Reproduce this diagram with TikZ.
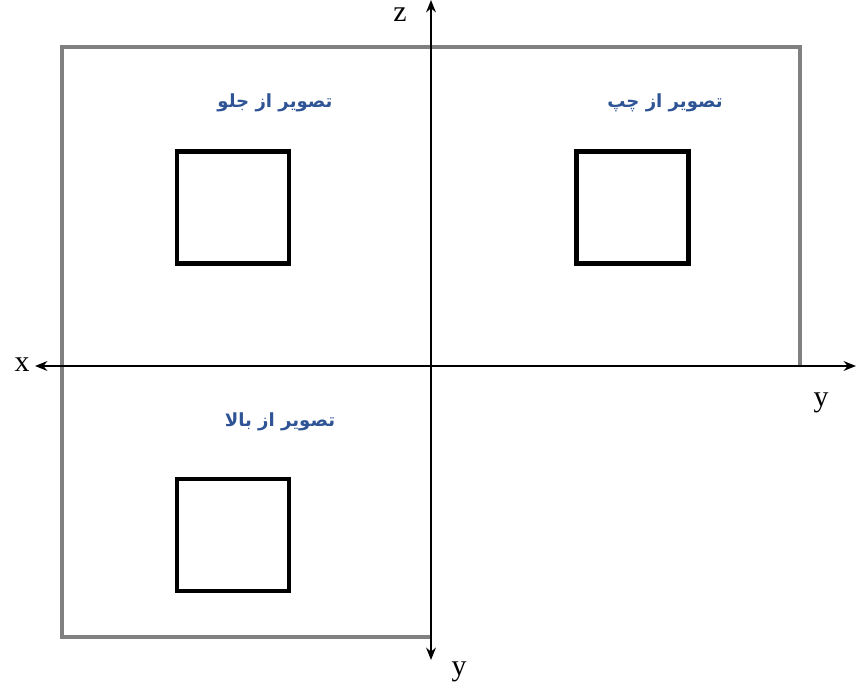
\documentclass[tikz,border=0pt]{standalone}
\usepackage{fontspec}
\usetikzlibrary{arrows.meta}
\setmainfont{Liberation Serif}
\newfontfamily\arabicfont[Script=Arabic]{DejaVu Sans}
\TeXXeTstate=1
\definecolor{framegray}{RGB}{128,128,128}
\definecolor{viewblue}{RGB}{47,84,150}
\tikzset{
  axis/.style={{Stealth[length=7pt,width=5.5pt]}-{Stealth[length=7pt,width=5.5pt]},line width=1.2pt},
  frameline/.style={draw=framegray,line width=2.4pt},
  viewbox/.style={draw,line width=2.4pt,minimum size=2.24cm,inner sep=0pt},
  viewlabel/.style={text=viewblue,font=\arabicfont\bfseries\fontsize{10.3}{12}\selectfont},
  axlabel/.style={font=\fontsize{17}{19}\selectfont}
}
\begin{document}
\begin{tikzpicture}[x=0.02cm,y=-0.02cm]
        \useasboundingbox (0,0) rectangle (856,691);

        % Frame corners
        \coordinate (FTL) at (62,47);
        \coordinate (FTR) at (800,47);
        \coordinate (FR) at (800,366);
        \coordinate (FBL) at (62,637);
        \coordinate (FB) at (431,637);

        \draw[frameline] (FR) -- (FTR) -- (FTL) -- (FBL) -- (FB);

        % Axis ends
        \coordinate (Xend) at (35,366);
        \coordinate (Yend) at (856,366);
        \coordinate (Zend) at (431,0);
        \coordinate (Ydown) at (431,660);

        \draw[axis] (Xend) -- (Yend);
        \draw[axis] (Zend) -- (Ydown);

        \node[axlabel] (xl) at (22,365) {x};
        \node[axlabel] (zl) at (400,15) {z};
        \node[axlabel] (yl) at (821,403) {y};
        \node[axlabel] (ydl) at (459,672) {y};

        % Views
        \node[viewbox] (front) at (233,207.5) {};
        \node[viewbox] (left) at (632.5,207.5) {};
        \node[viewbox] (top) at (233,535) {};

        \node[viewlabel] (frontl) at (275,103) {\beginR تصویر از جلو\endR};
        \node[viewlabel] (leftl) at (665,103) {\beginR تصویر از چپ\endR};
        \node[viewlabel] (topl) at (280,422) {\beginR تصویر از بالا\endR};

\end{tikzpicture}
\end{document}
